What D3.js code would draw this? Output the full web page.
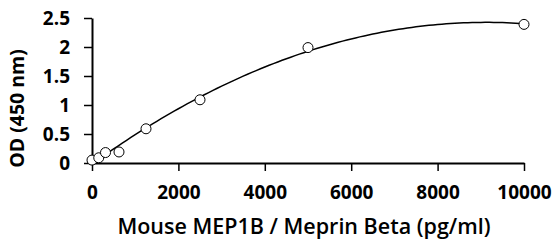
<!DOCTYPE html>
<html>
<head>
<meta charset="utf-8">
<script src="https://cdn.jsdelivr.net/npm/d3@7"></script>
<style>
  body { margin: 0; background: #fff; }
  svg text { font-family: "Open Sans", sans-serif; fill: #000; }
</style>
</head>
<body>
<svg id="vis-svg"></svg>
<script>
// standard concentrations (pg/ml) and measured OD
const concentrations = [0, 156.25, 312.5, 625, 1250, 2500, 5000, 10000];
const odValues = [0.05, 0.09, 0.18, 0.19, 0.59, 1.09, 1.99, 2.39];
const xTicks = [0, 2000, 4000, 6000, 8000, 10000];
const yTicks = [0, 0.5, 1, 1.5, 2, 2.5];
const xLabelText = "Mouse MEP1B / Meprin Beta (pg/ml)";
const yLabelText = "OD (450 nm)";

const totalW = 557, totalH = 249;
const margin = {top: 18, right: 33, bottom: 86, left: 92},
      width = totalW - margin.left - margin.right,
      height = totalH - margin.top - margin.bottom;

const svg = d3.select("#vis-svg")
    .attr("width", totalW)
    .attr("height", totalH)
  .append("g")
    .attr("transform", "translate(" + margin.left + "," + margin.top + ")");

const x = d3.scaleLinear().domain([0, 10000]).range([0, width]),
      y = d3.scaleLinear().domain([0, 2.5]).range([height, 0]);

// least squares quadratic fit of the standards
function quadFit(xs, ys) {
    let s = [0, 0, 0, 0, 0], t = [0, 0, 0];
    xs.forEach((xv, i) => {
        const u = xv / 10000;
        for (let k = 0; k < 5; k++) s[k] += Math.pow(u, k);
        for (let k = 0; k < 3; k++) t[k] += ys[i] * Math.pow(u, k);
    });
    const A = [[s[0], s[1], s[2], t[0]], [s[1], s[2], s[3], t[1]], [s[2], s[3], s[4], t[2]]];
    for (let i = 0; i < 3; i++) {
        for (let j = i + 1; j < 3; j++) {
            const f = A[j][i] / A[i][i];
            for (let k = i; k < 4; k++) A[j][k] -= f * A[i][k];
        }
    }
    const c = [0, 0, 0];
    for (let i = 2; i >= 0; i--) {
        let v = A[i][3];
        for (let k = i + 1; k < 3; k++) v -= A[i][k] * c[k];
        c[i] = v / A[i][i];
    }
    return xv => { const u = xv / 10000; return c[0] + c[1] * u + c[2] * u * u; };
}
const fit = quadFit(concentrations, odValues);

// x axis
const xAxis = svg.append("g")
    .attr("transform", "translate(0," + height + ")")
    .call(d3.axisBottom(x).tickValues(xTicks).tickFormat(d => String(d))
        .tickSize(8).tickPadding(15).tickSizeOuter(0));
xAxis.select(".domain").attr("stroke-width", 2);
xAxis.selectAll(".tick line").attr("stroke-width", 1.5);
xAxis.selectAll("text").style("font-size", "19px").style("font-weight", "bold");

// y axis
const yAxis = svg.append("g")
    .call(d3.axisLeft(y).tickValues(yTicks).tickFormat(d => String(d))
        .tickSize(8).tickPadding(14).tickSizeOuter(0));
yAxis.select(".domain").attr("stroke-width", 2);
yAxis.selectAll(".tick line").attr("stroke-width", 1.5);
yAxis.selectAll("text").style("font-size", "19px").style("font-weight", "bold");

// fitted curve
const curvePts = d3.range(0, 10001, 100);
svg.append("path")
    .datum(curvePts)
    .attr("fill", "none")
    .attr("stroke", "black")
    .attr("stroke-width", 1.5)
    .attr("d", d3.line().x(d => x(d)).y(d => y(fit(d))));

// standards
svg.selectAll(".pt")
    .data(concentrations)
  .enter().append("circle")
    .attr("cx", d => x(d))
    .attr("cy", (d, i) => y(odValues[i]))
    .attr("r", 5)
    .attr("fill", "white")
    .attr("stroke", "black")
    .attr("stroke-width", 1);

// x axis label
svg.append("text")
    .attr("transform", "translate(" + (width / 2 - 4) + " ," + (height + 71) + ")")
    .style("text-anchor", "middle")
    .style("font-size", "21.5px")
    .style("font-weight", "600")
    .text(xLabelText);

// y axis label
svg.append("text")
    .attr("transform", "rotate(-90)")
    .attr("y", 24 - margin.left)
    .attr("x", 0 - (height / 2) - 18)
    .style("text-anchor", "middle")
    .style("font-size", "19.5px")
    .style("font-weight", "bold")
    .text(yLabelText);
</script>
</body>
</html>
